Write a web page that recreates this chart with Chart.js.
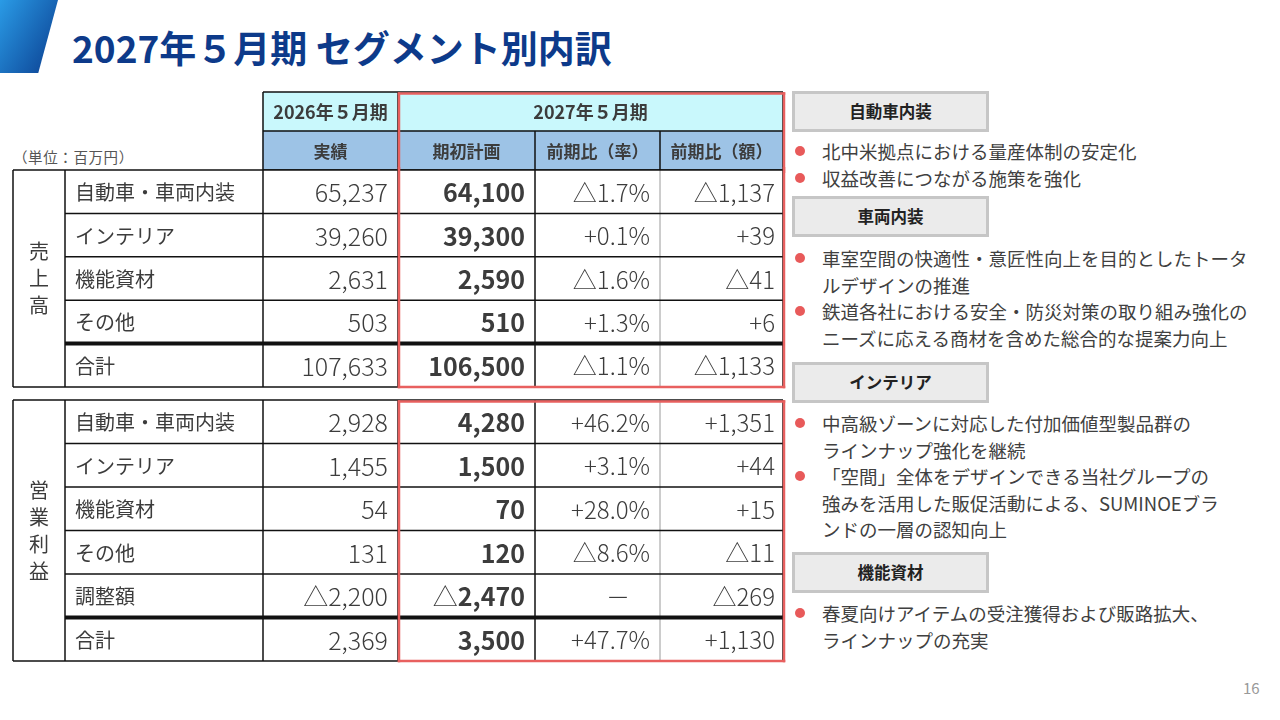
<!DOCTYPE html>
<html lang="ja">
<head>
<meta charset="utf-8">
<title>2027年５月期 セグメント別内訳</title>
<script src="https://cdn.jsdelivr.net/npm/chart.js@4.4.1/dist/chart.umd.min.js"></script>
<style>
  html,body{margin:0;padding:0;background:#fff}
  body{width:1280px;height:720px;position:relative;overflow:hidden;font-family:"Noto Sans CJK JP","Noto Sans",sans-serif;color:#404040}
  .mark{position:absolute;left:0;top:0;width:58px;height:73px;background:linear-gradient(120deg,#2a9be6 0%,#0a3d8f 100%);clip-path:polygon(0 0,100% 0,66% 100%,0 100%)}
  h1{position:absolute;left:72px;top:21px;margin:0;font-size:37px;font-weight:700;color:#0d3a8a;line-height:52px;white-space:nowrap}
  .unit{position:absolute;left:13px;top:146px;font-size:14.5px;letter-spacing:0.6px;color:#555}
  canvas{position:absolute}
  .seg{position:absolute;left:792px;width:197px;height:41px;box-sizing:border-box;background:#ebebeb;border:3px solid #c6c6c6;text-align:center;font-size:16.5px;font-weight:700;color:#222;line-height:35px}
  ul{position:absolute;left:792px;margin:0;padding:0;list-style:none;font-size:18.5px;line-height:26.5px;color:#404040;white-space:nowrap}
  li{position:relative;padding-left:30px}
  li:before{content:"";position:absolute;left:3px;top:8px;width:10px;height:10px;border-radius:50%;background:#e85a5a}
  .page{position:absolute;left:1243px;top:677px;font-size:15px;color:#999}
</style>
</head>
<body>
<div class="mark"></div>
<h1>2027年５月期 セグメント別内訳</h1>
<div class="unit">（単位：百万円）</div>

<canvas id="tblHead" width="780" height="84" style="left:10px;top:89px"></canvas>
<canvas id="tblSales" width="780" height="223" style="left:10px;top:167px"></canvas>
<canvas id="tblProfit" width="780" height="267" style="left:10px;top:397px"></canvas>

<div class="seg" style="top:91px">自動車内装</div>
<ul style="top:138px">
  <li>北中米拠点における量産体制の安定化</li>
  <li>収益改善につながる施策を強化</li>
</ul>
<div class="seg" style="top:196px">車両内装</div>
<ul style="top:245px">
  <li>車室空間の快適性・意匠性向上を目的としたトータ<br>ルデザインの推進</li>
  <li>鉄道各社における安全・防災対策の取り組み強化の<br>ニーズに応える商材を含めた総合的な提案力向上</li>
</ul>
<div class="seg" style="top:362px">インテリア</div>
<ul style="top:410px">
  <li>中高級ゾーンに対応した付加価値型製品群の<br>ラインナップ強化を継続</li>
  <li>「空間」全体をデザインできる当社グループの<br>強みを活用した販促活動による、SUMINOEブラ<br>ンドの一層の認知向上</li>
</ul>
<div class="seg" style="top:552px">機能資材</div>
<ul style="top:600px">
  <li>春夏向けアイテムの受注獲得および販路拡大、<br>ラインナップの充実</li>
</ul>
<div class="page">16</div>

<script>
// 単位：百万円
const yearPrev = '2026年５月期'
const yearPlan = '2027年５月期'
const columnHeads = ['実績', '期初計画', '前期比（率）', '前期比（額）']

const salesTitle = '売上高'
const salesSegments = ['自動車・車両内装', 'インテリア', '機能資材', 'その他', '合計']
const salesActual = [65237, 39260, 2631, 503, 107633]
const salesPlan = [64100, 39300, 2590, 510, 106500]
const salesRate = [-1.7, 0.1, -1.6, 1.3, -1.1]
const salesDiff = [-1137, 39, -41, 6, -1133]

const profitTitle = '営業利益'
const profitSegments = ['自動車・車両内装', 'インテリア', '機能資材', 'その他', '調整額', '合計']
const profitActual = [2928, 1455, 54, 131, -2200, 2369]
const profitPlan = [4280, 1500, 70, 120, -2470, 3500]
const profitRate = [46.2, 3.1, 28.0, -8.6, null, 47.7]
const profitDiff = [1351, 44, 15, -11, -269, 1130]

// layout: column widths of the table (px)
const colWidths = [52, 198, 135, 137, 125, 123]
const tableWidth = colWidths.reduce((a, b) => a + b, 0)
const FONT = '"Noto Sans CJK JP", "Noto Sans", sans-serif'
const INK = '#3c3c3c'
const LINE = '#111'
const RED = '#e8605f'

function fmtNum(v) {
  return Math.abs(v).toLocaleString('en-US')
}
function fmtDiff(v) {
  return (v < 0 ? '△' : '+') + fmtNum(v)
}
function fmtRate(v) {
  if (v === null) return '－'
  return (v < 0 ? '△' : '+') + Math.abs(v).toFixed(1) + '%'
}

function buildRows(segments, actual, plan, rate, diff) {
  return segments.map((s, i) => ({
    type: i === segments.length - 1 ? 'total' : 'data',
    label: s, actual: actual[i], plan: plan[i], rate: rate[i], diff: diff[i]
  }))
}

function fillFor(row, c) {
  if (row.type === 'h1') return c >= 2 ? '#c9f8fc' : 'rgba(0,0,0,0)'
  if (row.type === 'h2') return c >= 2 ? '#9dc3e6' : 'rgba(0,0,0,0)'
  return '#ffffff'
}

function tablePlugin(rows, groupTitle, frameTop, frameBottom) {
  return {
    id: 'tableCells',
    afterDatasetsDraw(chart) {
      const ctx = chart.ctx
      const area = chart.chartArea
      const last = colWidths.length - 1
      const cell = (r, c) => {
        const p = chart.getDatasetMeta(c).data[r].getProps(['x', 'y', 'base', 'height'], true)
        return { l: Math.min(p.x, p.base), r: Math.max(p.x, p.base), t: p.y - p.height / 2, b: p.y + p.height / 2, cy: p.y }
      }
      const line = (x1, y1, x2, y2, w, color) => {
        ctx.beginPath()
        ctx.moveTo(x1, y1)
        ctx.lineTo(x2, y2)
        ctx.lineWidth = w
        ctx.strokeStyle = color
        ctx.stroke()
      }
      const text = (s, x, y, align, font) => {
        ctx.font = font
        ctx.textAlign = align
        ctx.textBaseline = 'middle'
        ctx.fillStyle = INK
        ctx.fillText(s, x, y)
      }

      ctx.save()
      const lastRow = rows.length - 1
      const R = cell(0, last).r

      // header rows
      rows.forEach((row, r) => {
        if (row.type === 'h1') {
          const a = cell(r, 2), p = cell(r, 3)
          line(a.l, a.t, R, a.t, 1.5, LINE)
          line(a.l, a.t, a.l, a.b, 1.5, LINE)
          line(a.r, a.t, a.r, a.b, 1.5, LINE)
          line(R, a.t, R, a.b, 1.5, LINE)
          line(a.l, a.b, R, a.b, 1.5, LINE)
          text(yearPrev, (a.l + a.r) / 2, a.cy + 1, 'center', 'bold 18px ' + FONT)
          text(yearPlan, (p.l + R) / 2, a.cy + 1, 'center', 'bold 18px ' + FONT)
        }
        if (row.type === 'h2') {
          for (let c = 2; c <= last; c++) {
            const k = cell(r, c)
            line(k.l, k.t, k.l, k.b, 1.5, LINE)
            text(columnHeads[c - 2], (k.l + k.r) / 2, k.cy + 1, 'center', 'bold 17px ' + FONT)
          }
          const k = cell(r, last)
          line(R, k.t, R, k.b, 1.5, LINE)
          line(cell(r, 2).l, k.b, R, k.b, 1.5, LINE)
        }
      })

      const first = rows.findIndex(r => r.type === 'data')
      if (first >= 0) {
        const L = cell(first, 0).l
        const top = cell(first, 0).t
        const bottom = cell(lastRow, 0).b

        // body grid
        line(cell(first, last).l, top, cell(first, last).l, bottom, 1, '#9a9a9a')
        for (let c = 0; c < last; c++) {
          const x = cell(first, c).l
          line(x, top, x, bottom, 1.5, LINE)
        }
        line(R, top, R, bottom, 1.5, LINE)
        for (let r = first; r <= lastRow; r++) {
          const k = cell(r, 1)
          if (r === first) line(L, k.t, R, k.t, 1.5, LINE)
          else line(k.l, k.t, R, k.t, rows[r].type === 'total' ? 4 : 1.5, LINE)
        }
        line(L, bottom, R, bottom, 1.5, LINE)

        // group title, written vertically
        const gx = (cell(first, 0).l + cell(first, 0).r) / 2
        const gy = (top + bottom) / 2
        const chars = groupTitle.split('')
        chars.forEach((ch, i) => {
          text(ch, gx, gy + (i - (chars.length - 1) / 2) * 27, 'center', '20px ' + FONT)
        })

        // body texts
        for (let r = first; r <= lastRow; r++) {
          const row = rows[r]
          const y = cell(r, 1).cy + 1
          text(row.label, cell(r, 1).l + 10, y, 'left', '20px ' + FONT)
          text((row.actual < 0 ? '△' : '') + fmtNum(row.actual), cell(r, 2).r - 10, y, 'right', '300 25px ' + FONT)
          const px = cell(r, 3).r - 10
          text(fmtNum(row.plan), px, y, 'right', 'bold 25px ' + FONT)
          if (row.plan < 0) {
            const w = ctx.measureText(fmtNum(row.plan)).width
            text('△', px - w, y, 'right', '300 25px ' + FONT)
          }
          if (row.rate === null) text(fmtRate(row.rate), cell(r, 4).r - 30, y, 'right', '300 24px ' + FONT)
          else text(fmtRate(row.rate), cell(r, 4).r - 10, y, 'right', '300 24px ' + FONT)
          text(fmtDiff(row.diff), cell(r, 5).r - 8, y, 'right', '300 24px ' + FONT)
        }
      }

      // red frame around the 2027 plan
      const x1 = cell(0, 3).l + 1
      const x2 = R + 1
      const y1 = frameTop ? cell(0, 3).t + 1.5 : area.top - 3
      const y2 = frameBottom ? cell(lastRow, 3).b : area.bottom + 3
      ctx.lineCap = 'square'
      line(x1, y1, x1, y2, 2.5, RED)
      line(x2, y1, x2, y2, 2.5, RED)
      if (frameTop) line(x1, y1, x2, y1, 2.5, RED)
      if (frameBottom) line(x1, y2, x2, y2, 2.5, RED)
      ctx.restore()
    }
  }
}

function makeTable(id, rows, groupTitle, frameTop, frameBottom) {
  const datasets = colWidths.map((w, c) => ({
    data: rows.map(() => w),
    backgroundColor: ctx => ctx.type === 'data' ? fillFor(rows[ctx.dataIndex], c) : 'rgba(0,0,0,0)',
    borderWidth: 0,
    barPercentage: 1,
    categoryPercentage: 1,
    stack: 'table'
  }))
  return new Chart(document.getElementById(id), {
    type: 'bar',
    data: { labels: rows.map((r, i) => r.type + i), datasets: datasets },
    options: {
      indexAxis: 'y',
      responsive: false,
      animation: false,
      events: [],
      layout: { padding: { left: 3, right: 7, top: 3, bottom: 3 } },
      scales: {
        x: { type: 'linear', stacked: true, min: 0, max: tableWidth, display: false },
        y: { stacked: true, display: false }
      },
      plugins: { legend: { display: false }, tooltip: { enabled: false } }
    },
    plugins: [tablePlugin(rows, groupTitle, frameTop, frameBottom)]
  })
}

makeTable('tblHead', [{ type: 'h1' }, { type: 'h2' }], '', true, false)
makeTable('tblSales', buildRows(salesSegments, salesActual, salesPlan, salesRate, salesDiff), salesTitle, false, true)
makeTable('tblProfit', buildRows(profitSegments, profitActual, profitPlan, profitRate, profitDiff), profitTitle, true, true)
</script>
</body>
</html>
